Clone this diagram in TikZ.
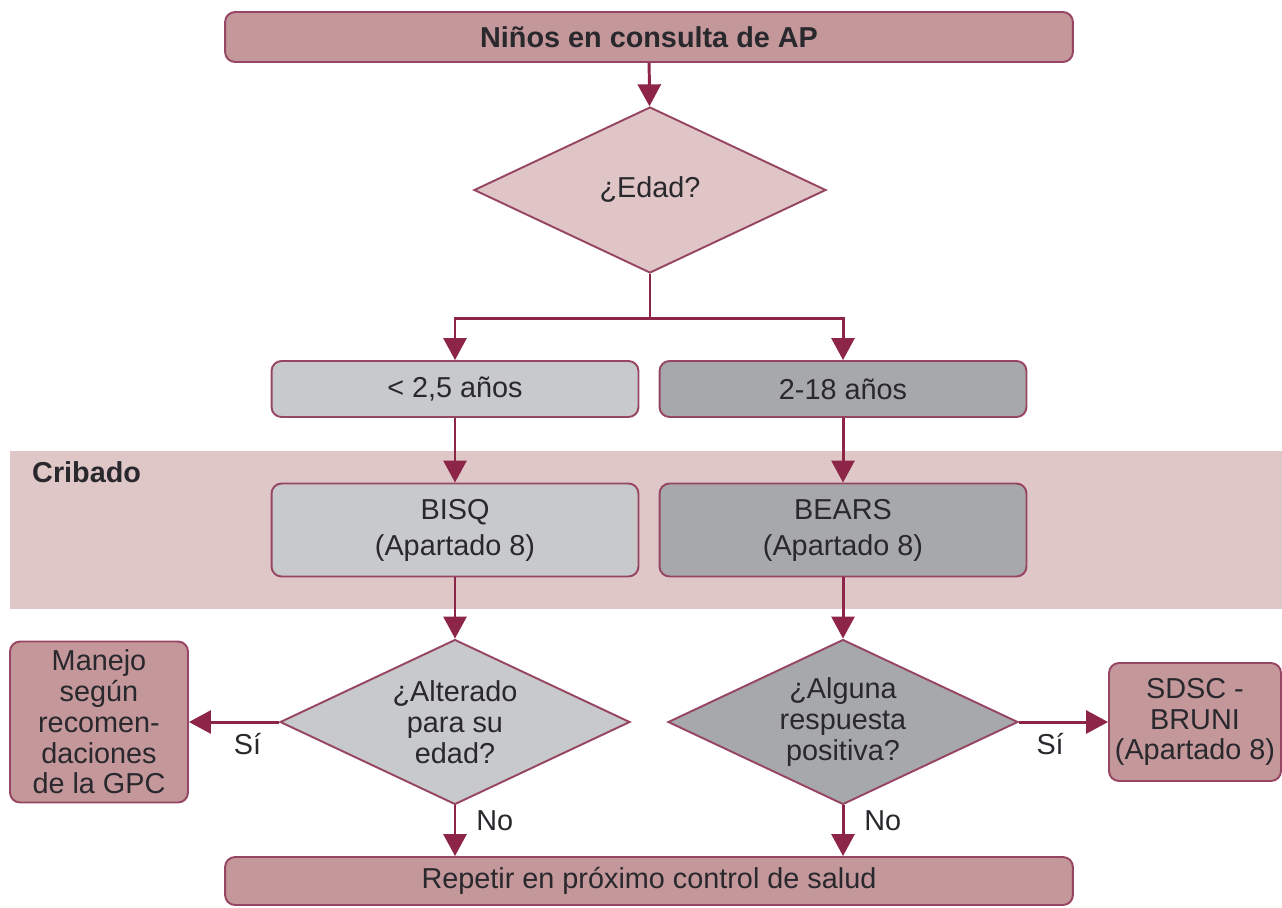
\documentclass[tikz,border=0pt]{standalone}
\usepackage{fontspec}
\setmainfont{Liberation Sans}
\usetikzlibrary{arrows.meta,shapes.geometric}
\definecolor{vino}{RGB}{140,37,72}
\definecolor{borde}{RGB}{150,70,98}
\definecolor{rosa}{RGB}{196,151,155}
\definecolor{rosaclaro}{RGB}{224,197,198}
\definecolor{franja}{RGB}{223,199,200}
\definecolor{grisclaro}{RGB}{200,201,203}
\definecolor{grisoscuro}{RGB}{167,168,172}
\definecolor{texto}{RGB}{40,40,45}
\begin{document}
\begin{tikzpicture}[x=0.02cm,y=-0.02cm,
  every node/.style={font=\fontsize{16.4}{17.5}\selectfont,text=texto},
  caja/.style={draw=borde,line width=1.1pt,rounded corners=0.2cm,align=center,inner sep=0pt},
  rombo/.style={draw=borde,line width=1.1pt,diamond,aspect=2.12,align=center,inner sep=0pt},
  flecha/.style={draw=vino,line width=1.7pt,-{Triangle[length=0.44cm,width=0.46cm]}}]
\useasboundingbox (0,0) rectangle (1282,907);
\fill[franja] (10,451) rectangle (1282,609);
\node[anchor=west] (cribado) at (26,472) {\bfseries Cribado};
\node[caja,fill=rosa,minimum width=16.96cm,minimum height=1cm] (ninos) at (649,37) {\bfseries Niños en consulta de AP};
\node[rombo,fill=rosaclaro,minimum width=7.04cm,minimum height=3.32cm] (edad) at (650,190) {¿Edad?};
\node[caja,fill=grisclaro,minimum width=7.34cm,minimum height=1.12cm] (menor) at (455,389) {< 2,5 años};
\node[caja,fill=grisoscuro,minimum width=7.34cm,minimum height=1.12cm] (mayor) at (843,389) {2-18 años};
\node[caja,fill=grisclaro,minimum width=7.34cm,minimum height=1.86cm] (bisq) at (455,530) {BISQ\\[3pt](Apartado 8)};
\node[caja,fill=grisoscuro,minimum width=7.34cm,minimum height=1.86cm] (bears) at (843,530) {BEARS\\[3pt](Apartado 8)};
\node[rombo,fill=grisclaro,minimum width=7cm,minimum height=3.3cm] (alterado) at (455,722) {¿Alterado\\para su\\edad?};
\node[rombo,fill=grisoscuro,minimum width=7cm,minimum height=3.3cm] (alguna) at (843,722) {¿Alguna\\respuesta\\positiva?};
\node[caja,fill=rosa,minimum width=3.56cm,minimum height=3.22cm] (manejo) at (99,722) {Manejo\\según\\recomen-\\daciones\\de la GPC};
\node[caja,fill=rosa,minimum width=3.44cm,minimum height=2.36cm] (sdsc) at (1195,722) {SDSC -\\BRUNI\\(Apartado 8)};
\node[caja,fill=rosa,minimum width=16.96cm,minimum height=0.96cm] (repetir) at (649,881) {Repetir en próximo control de salud};
% conectores
\draw[flecha] (ninos) -- (edad);
\draw[flecha] (edad.south) -- ++(0,45) -| (menor);
\draw[flecha] (edad.south) -- ++(0,45) -| (mayor);
\draw[flecha] (menor) -- (bisq);
\draw[flecha] (mayor) -- (bears);
\draw[flecha] (bisq) -- (alterado);
\draw[flecha] (bears) -- (alguna);
\draw[flecha] (alterado) -- node[pos=0.35,below=2pt]{Sí} (manejo);
\draw[flecha] (alguna) -- node[pos=0.35,below=2pt]{Sí} (sdsc);
\draw[flecha] (alterado) -- node[pos=0.3,right=8pt]{No} (alterado|-repetir.north);
\draw[flecha] (alguna) -- node[pos=0.3,right=8pt]{No} (alguna|-repetir.north);
\end{tikzpicture}
\end{document}
